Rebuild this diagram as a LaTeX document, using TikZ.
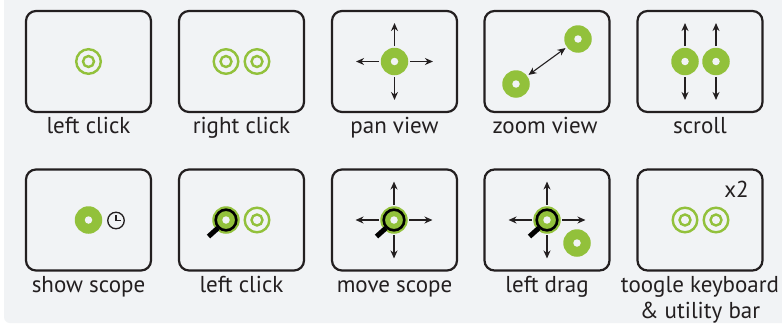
\documentclass[tikz,border=0pt]{standalone}
\usepackage{fontspec}
\setmainfont{PT Sans}
\usetikzlibrary{arrows.meta}
\definecolor{pagebg}{HTML}{F1F3F5}
\definecolor{lime}{HTML}{92C13B}
\definecolor{ink}{HTML}{231F20}
\tikzset{
  x=1pt,y=-1pt,
  panel/.style={draw=ink,line width=2.2pt,rounded corners=10pt,fill=pagebg,minimum width=125pt,minimum height=101pt,inner sep=0pt},
  caption/.style={text=ink,font=\fontsize{23}{27}\selectfont,anchor=base,inner sep=0pt,align=center},
  arrowline/.style={draw=ink,line width=1.1pt,shorten <=1.5pt,shorten >=1.5pt,{Stealth[length=8pt,width=7pt]}-{Stealth[length=8pt,width=7pt]}},
  onearrow/.style={draw=ink,line width=1.1pt,shorten <=1.5pt,-{Stealth[length=8pt,width=7pt]}},
  ringouter/.style={circle,draw=lime,line width=2.4pt,minimum size=24.6pt,inner sep=0pt,fill=pagebg},
  disc/.style={circle,fill=lime,minimum size=27.5pt,inner sep=0pt},
  hole/.style={circle,fill=pagebg,minimum size=7.5pt,inner sep=0pt},
  ringinner/.style={circle,draw=lime,line width=2.4pt,minimum size=11pt,inner sep=0pt},
}
\newcommand{\tapring}[2]{\node[ringouter] (#1o) at (#2) {};\node[ringinner] (#1i) at (#2) {};}
\newcommand{\tapdisc}[2]{\node[disc] (#1o) at (#2) {};\node[hole] (#1i) at (#2) {};}
\newcommand{\scopeglass}[2]{%
  \node[disc] (#1o) at (#2) {};
  \node[circle,draw=black,line width=2.6pt,minimum size=20.6pt,inner sep=0pt] (#1g) at (#2) {};
  \node[hole] (#1i) at (#2) {};
  \draw[black,line width=5pt] ([shift={(-8,8)}]#2) -- ([shift={(-17.5,16.5)}]#2);
}
\newcommand{\fourarrows}[1]{%
  \draw[onearrow] (#1.north) -- +(0,-24.5);
  \draw[onearrow] (#1.south) -- +(0,24.5);
  \draw[onearrow] (#1.west) -- +(-24.5,0);
  \draw[onearrow] (#1.east) -- +(24.5,0);
}
\begin{document}
\begin{tikzpicture}
\useasboundingbox (0,0) rectangle (782,324);
\fill[white] (0,0) rectangle (782,324);
\fill[pagebg,rounded corners=6pt] (4,-10) rectangle (792,323);
% row 1 panels
\node[panel] (p1) at (88.5,61.5) {};
\node[panel] (p2) at (241.5,61.5) {};
\node[panel] (p3) at (394.5,61.5) {};
\node[panel] (p4) at (547,61.5) {};
\node[panel] (p5) at (700,61.5) {};
% row 2 panels
\node[panel] (q1) at (88.5,220) {};
\node[panel] (q2) at (241.5,220) {};
\node[panel] (q3) at (394.5,220) {};
\node[panel] (q4) at (547,220) {};
\node[panel] (q5) at (700,220) {};
% captions
\node[caption] (c1) at (88.5,133.5) {left click};
\node[caption] (c2) at (241.5,133.5) {right click};
\node[caption] (c3) at (394.5,133.5) {pan view};
\node[caption] (c4) at (545,133.5) {zoom view};
\node[caption] (c5) at (700,133.5) {scroll};
\node[caption] (d1) at (88.5,292.5) {show scope};
\node[caption] (d2) at (241.5,292.5) {left click};
\node[caption] (d3) at (394.5,292.5) {move scope};
\node[caption] (d4) at (547,292.5) {left drag};
\node[caption] (d5) at (700,292.5) {toogle keyboard};
\node[caption] (d6) at (700,318) {\&\ utility bar};
\node[caption] (x2) at (736.5,197) {x2};
% p1
\tapring{a}{88.5,61.5}
% p2
\tapring{b}{226,61.5}
\tapring{c}{257,61.5}
% p3
\tapdisc{d}{394.5,61.5}
\fourarrows{do}
% p4
\tapdisc{e}{578,39}
\tapdisc{f}{516,84}
\draw[arrowline] (fo) -- (eo);
% p5
\tapdisc{g}{685,61.5}
\tapdisc{h}{716,61.5}
\draw[onearrow] (go.north) -- +(0,-24.5);
\draw[onearrow] (go.south) -- +(0,24.5);
\draw[onearrow] (ho.north) -- +(0,-24.5);
\draw[onearrow] (ho.south) -- +(0,24.5);
% q1
\tapdisc{k}{88.5,220}
\node[circle,draw=ink,line width=1.3pt,minimum size=16.5pt,inner sep=0pt] (clock) at (116,220.5) {};
\draw[ink,line width=1.2pt] (clock.center) ++(0,-5.5) -- (clock.center) -- ++(5,0);
% q2
\scopeglass{m}{226,220}
\tapring{n}{257,220}
% q3
\scopeglass{r}{394,220}
\fourarrows{ro}
% q4
\scopeglass{s}{547,220}
\fourarrows{so}
\tapdisc{t}{577,243}
% q5
\tapring{u}{685,220}
\tapring{v}{716,220}
\end{tikzpicture}
\end{document}
